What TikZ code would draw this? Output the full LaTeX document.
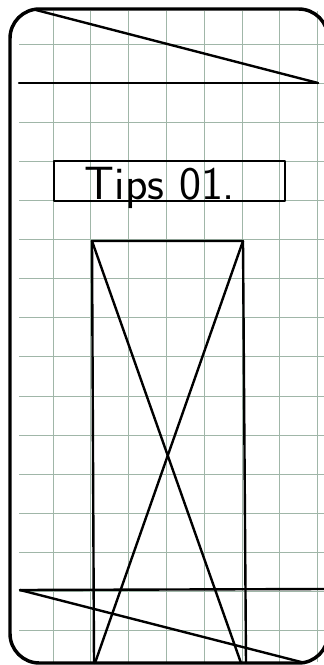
\documentclass[tikz,border=0pt]{standalone}
\definecolor{gridgreen}{RGB}{160,182,168}
\begin{document}
\begin{tikzpicture}[x=0.75pt, y=-0.75pt, font=\sffamily,
    pen/.style={line width=1.8pt, line cap=round, line join=round},
    gridline/.style={draw=gridgreen, line width=0.5pt}]

        \useasboundingbox (0,0) rectangle (324,665);
        \fill[white] (0,0) rectangle (324,665);

        % ==========================================
        % 1. Squared paper
        % ==========================================
        \foreach \k in {0,...,7}
            \draw[gridline] ({53+37.8*\k},11) -- ({53+37.8*\k},662);
        \foreach \k in {0,...,15}
            \draw[gridline] (19,{44+39.1*\k}) -- (324,{44+39.1*\k});

        % ==========================================
        % 2. Phone frame
        % ==========================================
        \draw[line width=2.6pt, rounded corners=22] (10,9) rectangle (328,663);

        % ==========================================
        % 3. Header bar
        % ==========================================
        \coordinate (hdrTop) at (36,10);
        \coordinate (hdrEnd) at (318,83);
        \coordinate (hdrLeft) at (19,83);
        \draw[pen] (hdrTop) -- (hdrEnd);
        \draw[pen] (hdrLeft) -- (hdrEnd);

        % ==========================================
        % 4. Title box
        % ==========================================
        \draw[pen] (54,161) rectangle (285,201);
        \node[anchor=base, inner sep=0pt, font=\sffamily\fontsize{35}{35}\selectfont]
            (title) at (160,199) {Tips 01.};

        % ==========================================
        % 5. Image placeholder
        % ==========================================
        \coordinate (imgTL) at (92,241);
        \coordinate (imgTR) at (243,241);
        \coordinate (imgBL) at (94,663);
        \coordinate (imgBR) at (246,663);
        \coordinate (crossL) at (95,663);
        \coordinate (crossR) at (241,663);
        \draw[pen] (imgBL) -- (imgTL) -- (imgTR) -- (imgBR);
        \draw[pen] (imgTL) -- (crossR);
        \draw[pen] (imgTR) -- (crossL);

        % ==========================================
        % 6. Footer bar
        % ==========================================
        \coordinate (ftrLeft) at (20,590);
        \coordinate (ftrRight) at (324,589);
        \coordinate (ftrEnd) at (305,663);
        \draw[pen] (ftrLeft) -- (ftrRight);
        \draw[pen] (ftrLeft) -- (ftrEnd);

    \end{tikzpicture}
\end{document}
